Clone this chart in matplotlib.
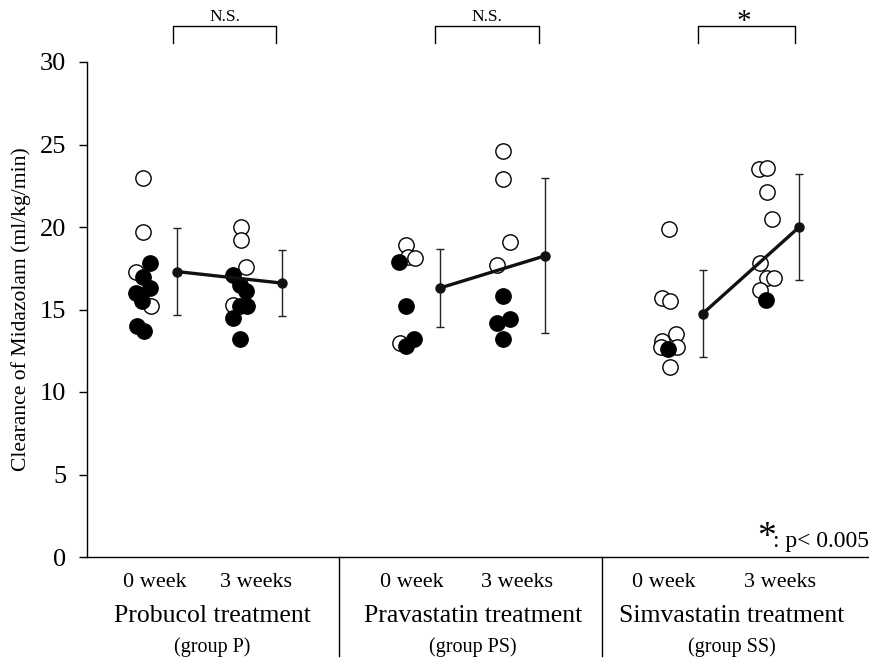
import matplotlib
matplotlib.use("Agg")
import matplotlib.pyplot as plt
import matplotlib.transforms as mtransforms
import numpy as np

plt.rcParams['font.family'] = ['Liberation Serif', 'DejaVu Serif']

# ---------------- data ----------------
groups = ["Probucol treatment", "Pravastatin treatment", "Simvastatin treatment"]
group_sub = ["(group P)", "(group PS)", "(group SS)"]
week_labels = ["0 week", "3 weeks"]
sig_labels = ["N.S.", "N.S.", "*"]

# individual values (open = one subgroup, filled = other subgroup)
P0_open = [23.0, 19.7, 17.3, 15.2]
P0_open_j = [0, 0, -7, 8]
P0_fill = [17.8, 17.0, 16.3, 16.0, 15.5, 14.0, 13.7]
P0_fill_j = [7, 0, 7, -7, -1, -6, 1]
P3_open = [20.0, 19.2, 17.6, 15.3]
P3_open_j = [1, 1, 6, -7]
P3_fill = [17.1, 16.5, 16.1, 15.2, 15.2, 14.5, 13.2]
P3_fill_j = [-7, 0, 6, 0, 7, -7, 0]

PS0_open = [18.9, 18.2, 18.1, 13.0]
PS0_open_j = [0, 2, 9, -6]
PS0_fill = [17.9, 15.2, 13.2, 12.8]
PS0_fill_j = [-7, 0, 8, 0]
PS3_open = [24.6, 22.9, 19.1, 17.7]
PS3_open_j = [0, 0, 7, -6]
PS3_fill = [15.8, 14.4, 14.2, 13.2]
PS3_fill_j = [0, 7, -6, 0]

SS0_open = [19.85, 15.7, 15.5, 13.5, 13.1, 12.7, 12.7, 11.5]
SS0_open_j = [0, -7, 1, 7, -7, -8, 8, 1]
SS0_fill = [12.6]
SS0_fill_j = [-1]
SS3_open = [23.5, 23.6, 22.1, 20.5, 17.8, 16.9, 16.9, 16.2]
SS3_open_j = [-7, 1, 1, 6, -6, 1, 8, -6]
SS3_fill = [15.6]
SS3_fill_j = [0]

means0 = [17.3, 16.3, 14.75]
sd0 = [2.65, 2.35, 2.65]
means3 = [16.6, 18.25, 20.0]
sd3 = [2.0, 4.7, 3.2]

# ---------------- layout constants ----------------
PX = 263.0          # pixels per group unit (for jitter conversion)
pos0 = 0.255        # 0 week column inside a group
pos3 = 0.625        # 3 weeks column
mpos0 = 0.383       # mean markers
mpos3 = [0.783, 0.783, 0.75]

fig = plt.figure(figsize=(8.69, 6.58), dpi=100)
ax = fig.add_axes([87/869, 1-557/658, 1-87/869, (557-62)/658])

ax.set_xlim((87-76)/PX, (869-76)/PX)
ax.set_ylim(0, 30)

data = [
    (P0_open, P0_open_j, P0_fill, P0_fill_j, P3_open, P3_open_j, P3_fill, P3_fill_j),
    (PS0_open, PS0_open_j, PS0_fill, PS0_fill_j, PS3_open, PS3_open_j, PS3_fill, PS3_fill_j),
    (SS0_open, SS0_open_j, SS0_fill, SS0_fill_j, SS3_open, SS3_open_j, SS3_fill, SS3_fill_j),
]

ms = 122
for g, (o0, o0j, f0, f0j, o3, o3j, f3, f3j) in enumerate(data):
    for vals, jit, base, filled in [(o0, o0j, pos0, False), (f0, f0j, pos0, True),
                                     (o3, o3j, pos3, False), (f3, f3j, pos3, True)]:
        x = g + base + np.array(jit) / PX
        ax.scatter(x, vals, s=ms, facecolor='black' if filled else 'white',
                   edgecolor='black', linewidth=1.0, zorder=3 if filled else 2)
    # means and error bars
    xm = [g + mpos0, g + mpos3[g]]
    ym = [means0[g], means3[g]]
    ax.errorbar(xm, ym, yerr=[sd0[g], sd3[g]], fmt='none', ecolor='#222222',
                elinewidth=1.0, capsize=2.8, capthick=1.0, zorder=4)
    ax.plot(xm, ym, '-', color='#111111', lw=2.4, zorder=5)
    ax.plot(xm, ym, 'o', color='#111111', ms=6.5, zorder=6)

# spines / ticks
for s in ['top', 'right']:
    ax.spines[s].set_visible(False)
ax.spines['left'].set_linewidth(1.0)
ax.spines['bottom'].set_linewidth(1.0)
ax.set_yticks([0, 5, 10, 15, 20, 25, 30])
ax.tick_params(axis='y', direction='out', length=6, width=1.0, labelsize=19, pad=9)
ax.set_xticks([])
ax.set_ylabel("Clearance of Midazolam (ml/kg/min)", fontsize=15.6, labelpad=6)

trans = mtransforms.blended_transform_factory(ax.transData, ax.transAxes)

# separators below axis
for g in [1, 2]:
    ax.plot([g, g], [0, -0.2], color='black', lw=1.0, transform=trans, clip_on=False)

# group labels
w0_pos = [0.30, 0.275, 0.235]
w3_pos = [0.684, 0.677, 0.677]
gname_pos = [0.517, 0.51, 0.494]
for g in range(3):
    ax.text(g + w0_pos[g], -0.052, week_labels[0], transform=trans, ha='center', va='center', fontsize=16)
    ax.text(g + w3_pos[g], -0.052, week_labels[1], transform=trans, ha='center', va='center', fontsize=16)
    ax.text(g + gname_pos[g], -0.119, groups[g], transform=trans, ha='center', va='center', fontsize=18.5)
    ax.text(g + gname_pos[g], -0.183, group_sub[g], transform=trans, ha='center', va='center', fontsize=14.5)

# significance brackets
br_l = [0.369, 0.365, 0.365]
br_r = [0.762, 0.760, 0.734]
for g in range(3):
    xl, xr = g + br_l[g], g + br_r[g]
    ax.plot([xl, xl, xr, xr], [1.038, 1.073, 1.073, 1.038], color='black', lw=1.0,
            transform=trans, clip_on=False)
    if sig_labels[g] == "*":
        ax.text((xl + xr) / 2 - 0.01, 1.066, "*", transform=trans, ha='center', va='baseline', fontsize=21)
    else:
        ax.text((xl + xr) / 2, 1.082, sig_labels[g], transform=trans, ha='center', va='baseline', fontsize=12.5)

# footnote
ax.text((757-76)/PX, 0.02, "*", transform=trans, ha='left', va='baseline', fontsize=27)
ax.text((773-76)/PX, 0.02, ": p< 0.005", transform=trans, ha='left', va='baseline', fontsize=17)

fig.savefig("out.png", dpi=100)
